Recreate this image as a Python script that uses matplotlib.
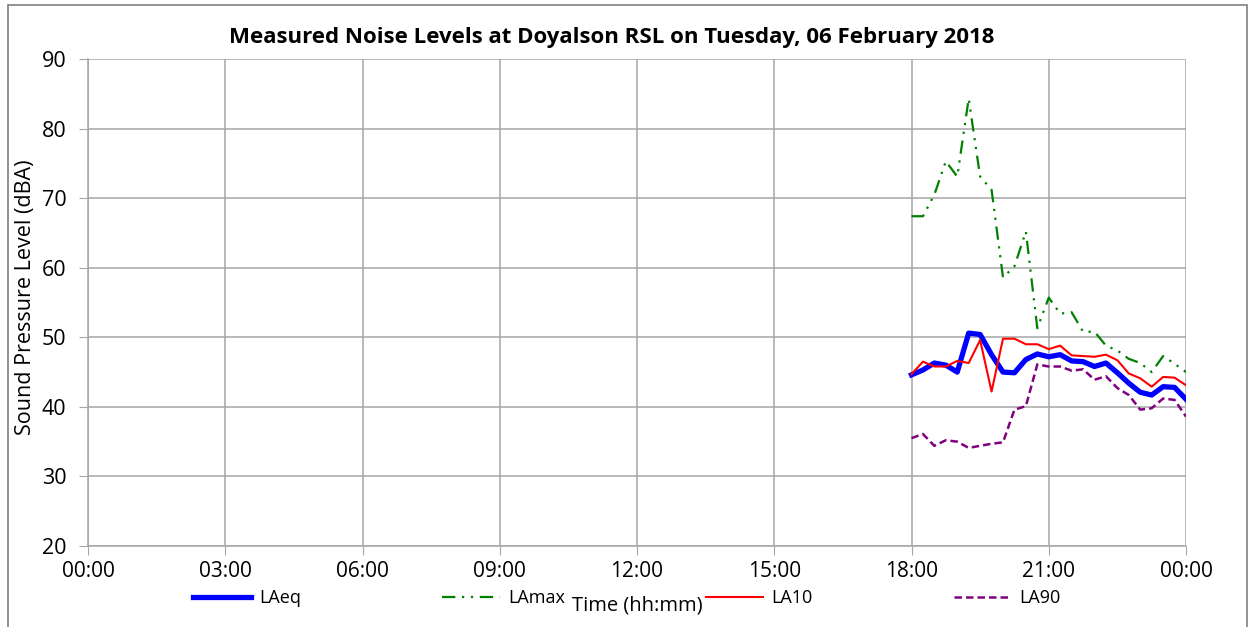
import numpy as np
import pandas as pd
import matplotlib
matplotlib.use("Agg")
import matplotlib.pyplot as plt
from matplotlib.patches import Rectangle

# 15-minute samples, 18:00 to 00:00
times = ["18:00", "18:15", "18:30", "18:45", "19:00", "19:15", "19:30", "19:45",
         "20:00", "20:15", "20:30", "20:45", "21:00", "21:15", "21:30", "21:45",
         "22:00", "22:15", "22:30", "22:45", "23:00", "23:15", "23:30", "23:45",
         "24:00"]

laeq = [44.6, 45.3, 46.3, 46.0, 45.0, 50.6, 50.4, 47.5, 45.0, 44.9, 46.8, 47.6, 47.2,
        47.5, 46.6, 46.5, 45.8, 46.3, 44.9, 43.4, 42.1, 41.7, 42.9, 42.8, 41.1]
lamax = [67.4, 67.4, 70.5, 75.3, 73.1, 84.3, 73.1, 71.2, 58.6, 60.2, 65.2, 51.3, 55.7,
         53.4, 53.6, 50.8, 50.8, 48.8, 48.1, 46.9, 46.3, 45.0, 47.3, 46.2, 45.0]
la10 = [44.7, 46.5, 45.8, 45.8, 46.6, 46.3, 49.6, 42.2, 49.8, 49.8, 49.0, 49.0, 48.3,
        48.8, 47.4, 47.3, 47.2, 47.5, 46.7, 44.8, 44.1, 42.9, 44.3, 44.2, 43.1]
la90 = [35.5, 36.1, 34.4, 35.2, 35.0, 34.1, 34.4, 34.7, 34.9, 39.6, 40.1, 46.1, 45.8,
        45.8, 45.2, 45.4, 43.9, 44.4, 42.7, 41.7, 39.6, 39.8, 41.2, 41.0, 38.6]

tick_hours = [0, 3, 6, 9, 12, 15, 18, 21, 24]
tick_labels = ["00:00", "03:00", "06:00", "09:00", "12:00", "15:00", "18:00", "21:00", "00:00"]

# convert hh:mm to decimal hours
hours = [int(t.split(":")[0]) + int(t.split(":")[1]) / 60 for t in times]

plt.rcParams['font.family'] = ['Open Sans', 'DejaVu Sans']

fig = plt.figure(figsize=(12.55, 6.27), dpi=100)
ax = fig.add_axes([88 / 1255, 81 / 627, 1098 / 1255, 487 / 627])

grid_c = '#a6a6a6'
ax.plot(hours, laeq, color='#0000ff', lw=3.8, label='LAeq', solid_joinstyle='round')
ax.plot(hours, lamax, color='#008000', lw=1.6, ls=(0, (6, 3, 1, 3, 1, 3)), label='LAmax')
ax.plot(hours, la10, color='#ff0000', lw=1.5, label='LA10')
ax.plot(hours, la90, color='#800080', lw=1.8, ls=(0, (3, 1.6)), label='LA90')

ax.set_xlim(0, 24)
ax.set_ylim(20, 90)
ax.set_xticks(tick_hours)
ax.set_xticklabels(tick_labels, fontsize=15)
ax.set_yticks(range(20, 91, 10))
ax.tick_params(axis='y', labelsize=15.5, length=6.5, color=grid_c, pad=9)
ax.tick_params(axis='x', length=6.5, color=grid_c, pad=4)

ax.grid(True, color=grid_c, lw=1.1)
ax.set_axisbelow(True)
for side in ['top', 'right']:
    ax.spines[side].set_visible(False)
for side in ['left', 'bottom']:
    ax.spines[side].set_color(grid_c)
    ax.spines[side].set_linewidth(1.1)

ax.set_ylabel('Sound Pressure Level (dBA)', fontsize=15.5)
ax.yaxis.set_label_coords(-52 / 1098, 0.51)

fig.text(612 / 1255, 1 - 38 / 627, 'Measured Noise Levels at Doyalson RSL on Tuesday, 06 February 2018',
         ha='center', va='center', fontsize=16, fontweight='bold')

fig.legend(loc='center', bbox_to_anchor=(627 / 1255, 29 / 627), ncol=4, frameon=False,
           fontsize=13, handlelength=3.2, handletextpad=0.45, columnspacing=7.8)
fig.text(637 / 1255, 1 - 605 / 627, 'Time (hh:mm)', ha='center', va='center', fontsize=14.5)

# outer chart border
fig.patches.append(Rectangle((8 / 1255, -0.02), 1239 / 1255, 1.02 - 5 / 627,
                             transform=fig.transFigure, fill=False, ec='#7f7f7f', lw=1.2))

fig.savefig('out.png', dpi=100)
